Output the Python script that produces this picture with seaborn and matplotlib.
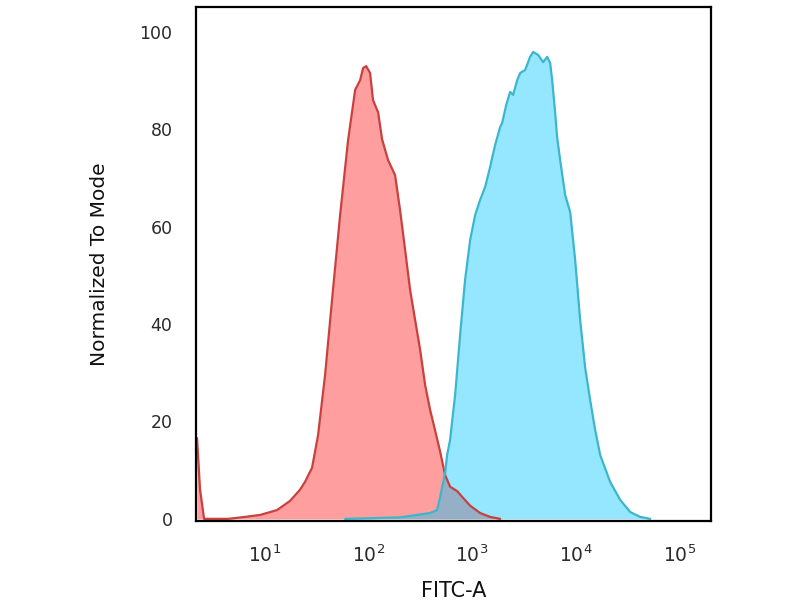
import numpy as np
import pandas as pd
import matplotlib
matplotlib.use("Agg")
import matplotlib.pyplot as plt
import seaborn as sns

# control (isotype) histogram: log10(FITC-A) and % of mode
ctrl_log = [0.343, 0.372, 0.411, 0.643, 0.807, 0.952, 1.116, 1.242, 1.338, 1.386,
            1.454, 1.512, 1.580, 1.647, 1.725, 1.802, 1.870, 1.918, 1.947, 1.976,
            2.014, 2.043, 2.092, 2.130, 2.188, 2.256, 2.304, 2.353, 2.401, 2.449,
            2.498, 2.546, 2.594, 2.643, 2.691, 2.739, 2.787, 2.855, 2.913, 2.981,
            3.077, 3.174, 3.271]
ctrl_pct = [16.6, 6.0, 0.0, 0.0, 0.4, 0.8, 1.8, 3.7, 6.0, 7.6,
            10.5, 17.2, 29.6, 45.0, 62.4, 77.8, 88.1, 90.1, 92.6, 93.0,
            91.6, 86.0, 83.5, 78.0, 73.7, 70.6, 63.4, 55.2, 47.0, 40.9,
            34.7, 27.5, 22.4, 18.1, 13.8, 9.0, 6.6, 5.7, 4.3, 2.7,
            1.2, 0.4, 0.0]

# stained sample histogram
stain_log = [1.773, 2.304, 2.594, 2.662, 2.691, 2.739, 2.758, 2.787, 2.836, 2.884,
             2.932, 2.981, 3.029, 3.077, 3.126, 3.174, 3.222, 3.271, 3.290, 3.329,
             3.367, 3.396, 3.435, 3.464, 3.512, 3.560, 3.589, 3.638, 3.686, 3.725,
             3.754, 3.773, 3.802, 3.821, 3.850, 3.899, 3.947, 3.995, 4.043, 4.092,
             4.140, 4.188, 4.237, 4.333, 4.430, 4.527, 4.623, 4.720]
stain_pct = [0.0, 0.3, 1.2, 1.8, 4.5, 9.4, 13.1, 16.2, 25.5, 37.8,
             49.1, 57.3, 62.4, 65.5, 68.2, 72.3, 76.8, 80.5, 81.3, 85.0,
             87.7, 87.1, 90.1, 91.6, 92.2, 94.9, 95.9, 95.3, 93.8, 94.9,
             93.6, 90.1, 83.4, 78.4, 73.7, 66.5, 63.0, 53.2, 40.9, 31.0,
             24.4, 18.3, 13.1, 7.6, 3.9, 1.4, 0.4, 0.0]

y_ticks = [0, 20, 40, 60, 80, 100]
x_ticks = [1e1, 1e2, 1e3, 1e4, 1e5]

ctrl = pd.DataFrame({"FITC-A": 10 ** np.array(ctrl_log), "pct": ctrl_pct})
stain = pd.DataFrame({"FITC-A": 10 ** np.array(stain_log), "pct": stain_pct})

sns.set_theme(style="white")
plt.rcParams['font.family'] = ['DejaVu Sans']

fig = plt.figure(figsize=(8, 6), dpi=100)
ax = fig.add_axes([0.245, 0.132, 0.644, 0.856])

ax.fill_between(ctrl["FITC-A"], 0, ctrl["pct"], color="#ff9e9e", linewidth=0)
sns.lineplot(data=ctrl, x="FITC-A", y="pct", ax=ax, color="#c8413e", linewidth=1.6,
             sort=False, estimator=None)
ax.fill_between(stain["FITC-A"], 0, stain["pct"], color="#00c8ff", alpha=0.42, linewidth=0)
sns.lineplot(data=stain, x="FITC-A", y="pct", ax=ax, color="#3cb6cc", linewidth=1.6,
             sort=False, estimator=None)

ax.set_xscale("log")
ax.set_xlim(10 ** 0.333, 10 ** 5.309)
ax.set_ylim(-0.4, 105.1)
ax.set_xticks(x_ticks)
ax.set_xticklabels([r"$10^{%d}$" % int(np.log10(v)) for v in x_ticks])
ax.xaxis.set_minor_locator(matplotlib.ticker.NullLocator())
ax.set_yticks(y_ticks)
ax.set_yticklabels([str(v) for v in y_ticks])
ax.tick_params(axis="x", length=0, pad=17, labelsize=13.5, colors="#2a2a2a")
ax.tick_params(axis="y", length=0, pad=17, labelsize=12.5, colors="#2a2a2a")

ax.set_xlabel("FITC-A", fontsize=15, labelpad=11, color="#111111")
ax.set_ylabel("Normalized To Mode", fontsize=14.5, labelpad=22, color="#111111")

for s in ax.spines.values():
    s.set_color("black")
    s.set_linewidth(1.6)

fig.savefig("out.png", dpi=100)
